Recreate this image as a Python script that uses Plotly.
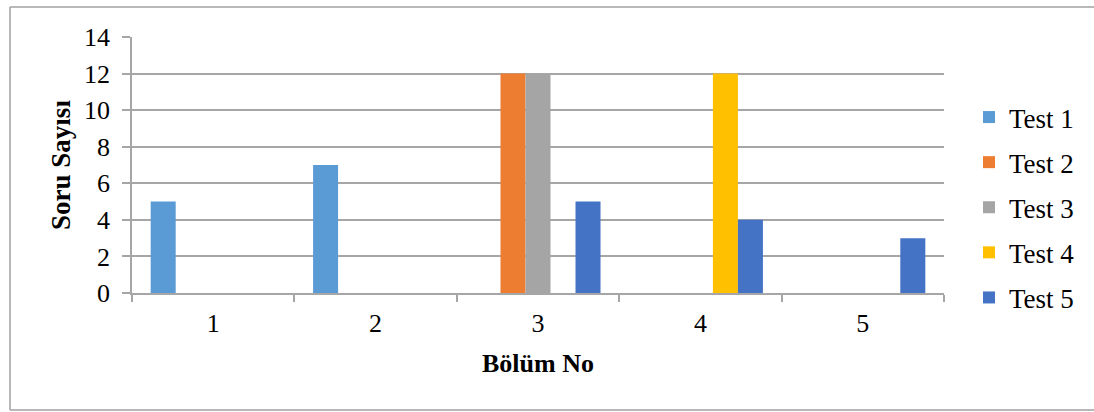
import plotly.graph_objects as go

categories = ["1", "2", "3", "4", "5"]
series_names = ["Test 1", "Test 2", "Test 3", "Test 4", "Test 5"]
test1 = [5, 7, 0, 0, 0]
test2 = [0, 0, 12, 0, 0]
test3 = [0, 0, 12, 0, 0]
test4 = [0, 0, 0, 12, 0]
test5 = [0, 0, 5, 4, 3]
colors = ["#5B9BD5", "#ED7D31", "#A5A5A5", "#FFC000", "#4472C4"]
y_ticks = [0, 2, 4, 6, 8, 10, 12, 14]

FONT = "Liberation Serif, Times New Roman, serif"
W, H = 1094, 412
L, R, T, B = 132, 150, 37, 119
pw, ph = W - L - R, H - T - B

fig = go.Figure()
for name, vals, col in zip(series_names, [test1, test2, test3, test4, test5], colors):
    fig.add_trace(go.Bar(x=categories, y=vals, name=name, marker_color=col,
                         marker_line_width=0, legendgroup=name))

def px(x):
    return (x - L) / pw

def py(y):
    return (H - B - y) / ph

border = dict(color="#a0a0a0", width=1.5)
for x0, y0, x1, y1 in [(10, 7, 10, 410), (10, 7, 1094, 7), (10, 410, 1094, 410)]:
    fig.add_shape(type="line", xref="paper", yref="paper",
                  x0=px(x0), x1=px(x1), y0=py(y0), y1=py(y1),
                  line=border, layer="below")

fig.update_layout(
    width=W, height=H,
    margin=dict(l=L, r=R, t=T, b=B, autoexpand=False),
    paper_bgcolor="white", plot_bgcolor="white",
    barmode="group", bargap=0.23, bargroupgap=0,
    font=dict(family=FONT, size=26, color="black"),
    showlegend=True,
    legend=dict(x=px(969), xanchor="left", y=py(93), yanchor="top",
                traceorder="grouped", tracegroupgap=7,
                font=dict(family=FONT, size=27, color="black"),
                itemwidth=30),
    xaxis=dict(showline=True, linecolor="#a6a6a6", linewidth=1.5,
               ticks="outside", ticklen=7, tickcolor="#a6a6a6", tickwidth=1.5,
               tickson="boundaries", showgrid=False, ticklabelstandoff=6,
               tickfont=dict(family=FONT, size=26),
               title=dict(text="<b>Bölüm No</b>", font=dict(family=FONT, size=26), standoff=17)),
    yaxis=dict(range=[0, 14], tickvals=y_ticks, showline=True, linecolor="#a6a6a6", linewidth=1.5,
               ticks="outside", ticklen=8, tickcolor="#a6a6a6", tickwidth=1.5,
               showgrid=True, gridcolor="#a6a6a6", gridwidth=1.5, zeroline=False,
               ticklabelstandoff=7,
               tickfont=dict(family=FONT, size=26),
               title=dict(text="<b>Soru Sayısı</b>", font=dict(family=FONT, size=27), standoff=6)),
)

fig.write_html("out.html", config={"displayModeBar": False},
               post_script="document.body.style.margin='0';document.body.style.overflow='hidden';")
